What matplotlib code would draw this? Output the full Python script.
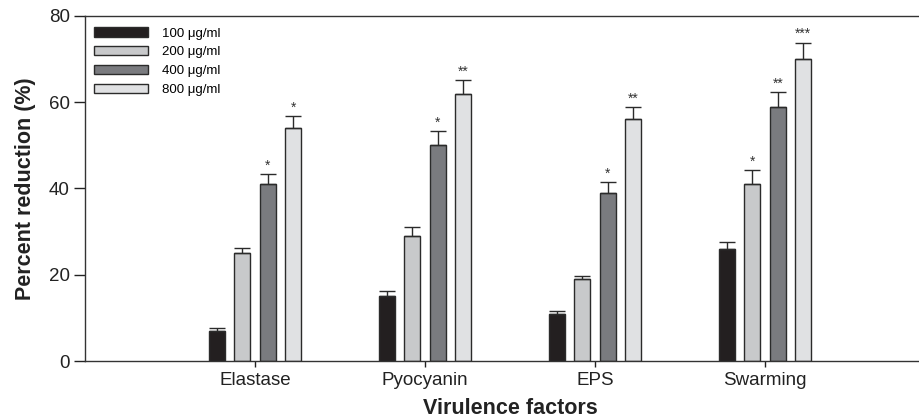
import matplotlib
matplotlib.use("Agg")
import matplotlib.pyplot as plt
import numpy as np

plt.rcParams["font.family"] = ["Liberation Sans", "DejaVu Sans"]

factors = ["Elastase", "Pyocyanin", "EPS", "Swarming"]
doses = ["100 μg/ml", "200 μg/ml", "400 μg/ml", "800 μg/ml"]
reduction = {
    "100 μg/ml": [7.0, 15.0, 10.9, 26.0],
    "200 μg/ml": [25.0, 29.0, 19.0, 41.0],
    "400 μg/ml": [41.0, 50.0, 39.0, 59.0],
    "800 μg/ml": [54.0, 62.0, 56.0, 70.0],
}
sem = {
    "100 μg/ml": [0.7, 1.3, 0.6, 1.7],
    "200 μg/ml": [1.3, 2.1, 0.8, 3.2],
    "400 μg/ml": [2.3, 3.3, 2.5, 3.3],
    "800 μg/ml": [2.7, 3.1, 2.8, 3.8],
}
stars = {
    "100 μg/ml": ["", "", "", ""],
    "200 μg/ml": ["", "", "", "*"],
    "400 μg/ml": ["*", "*", "*", "**"],
    "800 μg/ml": ["*", "**", "**", "***"],
}

COLORS = ["#231f20", "#c8c9cb", "#7a7b7f", "#e0e1e3"]
EDGE = "#2b2b2b"
INK = "#222222"

fig = plt.figure(figsize=(9.2, 4.19), dpi=100)
ax = fig.add_axes([85 / 920, 58 / 419, 850 / 920, 345 / 419])

x = np.arange(1, len(factors) + 1)
pitch, width = 0.15, 0.095
for i, d in enumerate(doses):
    xs = x + (i - 1.5) * pitch
    vals = np.array(reduction[d])
    errs = np.array(sem[d])
    ax.bar(xs, vals, width, color=COLORS[i], edgecolor=EDGE, linewidth=1.0,
           label=d, zorder=2)
    ax.errorbar(xs, vals, yerr=[np.zeros_like(errs), errs], fmt="none",
                ecolor=EDGE, elinewidth=1.0, capsize=6, capthick=1.0, zorder=3)
    for xi, v, e, s in zip(xs, vals, errs, stars[d]):
        if s:
            ax.text(xi, v + e + 0.4, s, ha="center", va="bottom",
                    fontsize=10, color="#333333")

ax.set_xlim(0, 5)
ax.set_ylim(0, 80)
ax.set_yticks([0, 20, 40, 60, 80])
ax.set_xticks(x)
ax.set_xticklabels(factors)
ax.tick_params(axis="y", direction="out", length=8, width=1, labelsize=13.5,
               colors=INK, pad=3)
ax.tick_params(axis="x", direction="out", length=4, width=1, labelsize=13.5,
               colors=INK, pad=4)
for sp in ax.spines.values():
    sp.set_color("#333333")
    sp.set_linewidth(1.0)

ax.set_ylabel("Percent reduction (%)", fontsize=15.5, fontweight="bold",
              color=INK, labelpad=9)
ax.set_xlabel("Virulence factors", fontsize=15.5, fontweight="bold",
              color=INK, labelpad=6.5)

ax.legend(loc="upper left", bbox_to_anchor=(0.0, 0.994), frameon=False,
          fontsize=9.5, handlelength=4.1, handleheight=0.7, labelspacing=0.5,
          handletextpad=1.0, borderaxespad=0.3)

fig.savefig("out.png", dpi=100, facecolor="white")
